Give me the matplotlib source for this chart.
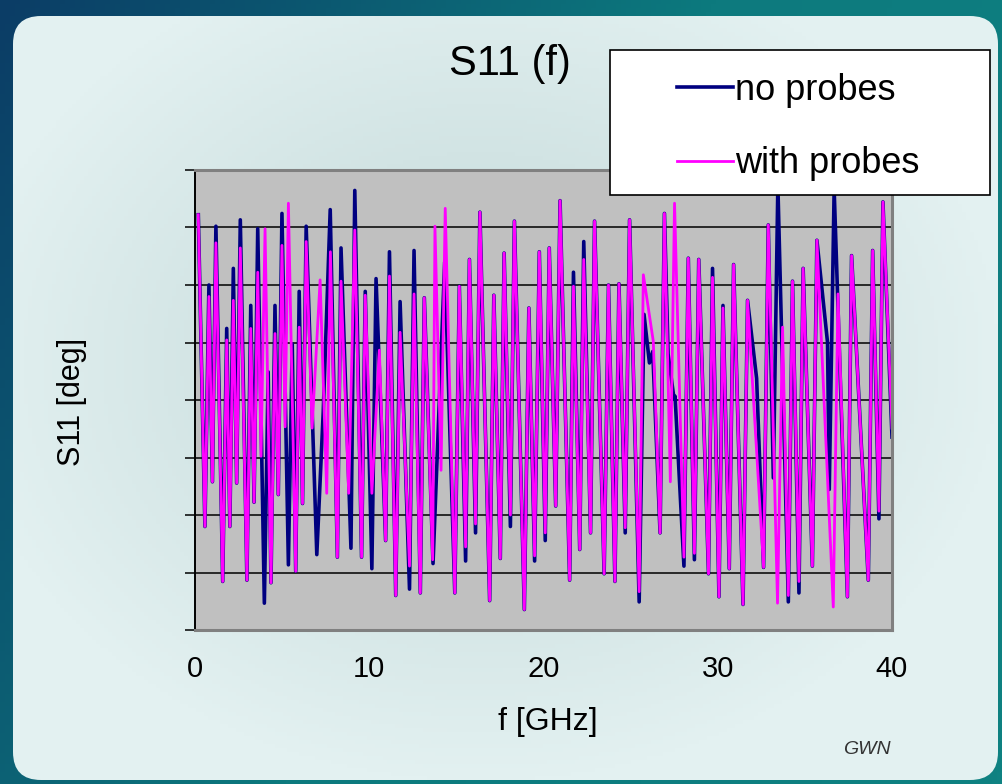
import numpy as np
import matplotlib
matplotlib.use('Agg')
import matplotlib.pyplot as plt
from matplotlib.patches import FancyBboxPatch, Rectangle
from matplotlib.colors import LinearSegmentedColormap

# extrema: frequency [GHz] and phase [deg]
f_no = [0.19, 0.57, 0.80, 1.00, 1.20, 1.59, 1.82, 2.00, 2.20, 2.39, 2.60, 2.98,
        3.20, 3.39, 3.60, 3.98, 4.20, 4.36, 4.59, 4.78, 4.99, 5.36, 5.58, 5.78,
        5.98, 6.17, 6.38, 6.99, 7.36, 7.76, 8.17, 8.38, 8.95, 9.17, 9.56, 9.77,
        10.15, 10.39, 10.94, 11.16, 11.52, 11.77, 12.31, 12.57, 12.93, 13.16,
        13.66, 14.33, 14.91, 15.17, 15.53, 15.75, 16.10, 16.35, 16.91, 17.15,
        17.52, 17.74, 18.10, 18.33, 18.90, 19.16, 19.49, 19.76, 20.10, 20.33,
        20.70, 20.95, 21.50, 21.72, 22.08, 22.31, 22.70, 22.93, 23.48, 23.73,
        24.10, 24.33, 24.69, 24.94, 25.49, 25.77, 26.08, 26.27, 26.69, 26.94,
        27.15, 27.49, 27.55, 28.06, 28.31, 28.66, 28.91, 29.47, 29.70, 30.07,
        30.30, 30.66, 30.91, 31.45, 31.71, 32.23, 32.63, 32.90, 33.19, 33.45,
        34.05, 34.29, 34.66, 34.90, 35.43, 35.69, 36.30, 36.40, 36.68, 37.44,
        37.68, 38.64, 38.89, 39.25, 39.48, 40.0]
s11_no = [145, -99, 90, -64, 136, -142, 56, -99, 103, -65, 141, -141,
          74, -80, 134, -159, 22, -143, 74, -74, 146, -129, 44, -134,
          85, -81, 136, -121, -9, 149, -123, 119, -116, 164, -123, 85,
          -132, 95, -110, 116, -153, 77, -148, 117, -151, 80,
          -128, 108, -151, 89, -126, 110, -104, 147, -157, 82,
          -124, 115, -99, 140, -164, 72, -126, 116, -110, 119,
          -83, 156, -141, 100, -117, 124, -104, 140, -136, 90,
          -142, 91, -104, 141, -158, 67, 29, 38, -104, 146,
          36, 1, 3, -130, 111, -125, 110, -136, 103, -154,
          74, -132, 106, -160, 78, 17, -131, 137, -61, 168,
          -158, 93, -151, 103, -130, 125, 45, -70, 165, -154,
          113, -141, 117, -93, 155, -29]

f_with = [0.19, 0.57, 0.80, 1.00, 1.20, 1.59, 1.82, 2.00, 2.20, 2.39, 2.60, 2.98,
          3.20, 3.39, 3.60, 3.79, 4.02, 4.36, 4.59, 4.78, 4.99, 5.17, 5.36, 5.78,
          5.98, 6.17, 6.38, 6.72, 7.18, 7.56, 7.77, 8.17, 8.38, 8.82, 9.17, 9.56,
          9.77, 10.15, 10.58, 10.94, 11.16, 11.52, 11.77, 12.31, 12.57, 12.93,
          13.16, 13.64, 13.77, 14.12, 14.36, 14.91, 15.17, 15.53, 15.75, 16.10,
          16.35, 16.91, 17.15, 17.52, 17.74, 18.10, 18.33, 18.90, 19.16, 19.49,
          19.76, 20.10, 20.33, 20.70, 20.95, 21.50, 21.72, 22.08, 22.31, 22.70,
          22.93, 23.48, 23.73, 24.10, 24.33, 24.69, 24.94, 25.49, 25.73, 26.30,
          26.69, 26.94, 27.28, 27.52, 28.06, 28.31, 28.66, 28.91, 29.47, 29.70,
          30.07, 30.30, 30.66, 30.91, 31.45, 31.71, 32.63, 32.90, 33.43, 33.72,
          34.05, 34.29, 34.66, 34.90, 35.43, 35.69, 36.63, 36.90, 37.44, 37.68,
          38.64, 38.89, 39.25, 39.48, 40.0]
s11_with = [145, -99, 81, -64, 123, -142, 47, -99, 78, -65, 119, -141,
            56, -80, 100, -44, 134, -143, 52, -74, 121, -21, 154, -134,
            57, -81, 124, -22, 94, -73, 116, -123, 93, -73, 133, -123,
            82, -73, 39, -110, 97, -153, 53, -130, 83, -151,
            80, -125, 136, -55, 150, -151, 89, -115, 110, -97,
            147, -157, 82, -124, 115, -90, 140, -164, 72, -122,
            116, -104, 119, -83, 156, -141, 89, -117, 110, -104,
            140, -136, 90, -142, 91, -100, 141, -150, 98, 46,
            -104, 146, -64, 154, -123, 111, -120, 110, -136, 96,
            -154, 72, -132, 106, -160, 78, -131, 137, -159, 57,
            -153, 93, -142, 103, -130, 125, -162, 83, -154, 113,
            -141, 117, -87, 155, -22]

x_ticks = [0, 10, 20, 30, 40]
y_ticks = [-180, -135, -90, -45, 0, 45, 90, 135, 180]

W, H = 1002, 784
fig = plt.figure(figsize=(W / 100, H / 100), dpi=100)
plt.rcParams['font.family'] = ['Liberation Sans', 'DejaVu Sans']

# slide background
bg = fig.add_axes([0, 0, 1, 1])
bg.set_zorder(0)
bg.set_xlim(0, W)
bg.set_ylim(H, 0)
bg.axis('off')
outer = LinearSegmentedColormap.from_list('outer', ['#0b3d66', '#0d7a7e', '#0f8282'])
gx = np.linspace(0, 1, 200)[None, :] * 0.7 + np.linspace(0, 1, 200)[:, None] * 0.3
bg.imshow(gx, cmap=outer, extent=(0, W, H, 0), aspect='auto')
inner = LinearSegmentedColormap.from_list('inner', ['#c0d6d6', '#d2e4e4', '#e3f1f1'])
yy, xx = np.mgrid[0:H:4, 0:W:4]
r = np.sqrt(((xx - 480) / 520.0) ** 2 + ((yy - 360) / 420.0) ** 2)
im = bg.imshow(np.clip(r, 0, 1), cmap=inner, extent=(0, W, H, 0), aspect='auto')
panel = FancyBboxPatch((13, 16), 985, 764, boxstyle='round,pad=0,rounding_size=28',
                       transform=bg.transData, facecolor='none', edgecolor='none')
bg.add_patch(panel)
im.set_clip_path(panel)

# plot area
ax = fig.add_axes([195 / W, 1 - 630 / H, 697 / W, 460 / H])
ax.set_zorder(1)
ax.set_facecolor('#c0c0c0')
ax.plot(f_no, s11_no, color='#000080', lw=2.6, label='no probes')
ax.plot(f_with, s11_with, color='#ff00ff', lw=2.0, label='with probes')
ax.set_xlim(0, 40)
ax.set_ylim(-180, 180)
ax.set_xticks(x_ticks)
ax.set_yticks(y_ticks)
ax.set_yticklabels([])
ax.grid(axis='y', color='black', lw=1.1)
ax.set_axisbelow(True)
ax.tick_params(axis='y', direction='out', length=7, width=1.1, color='black')
ax.tick_params(axis='x', length=0, pad=18, labelsize=21)
for side in ['top', 'right', 'bottom']:
    ax.spines[side].set_color('#808080')
    ax.spines[side].set_linewidth(2.2)
ax.spines['left'].set_color('black')
ax.spines['left'].set_linewidth(1.4)

fig.text(510 / W, 1 - 64 / H, 'S11 (f)', fontsize=30, ha='center', va='center')
fig.text(548 / W, 1 - 722 / H, 'f [GHz]', fontsize=23, ha='center', va='center')
fig.text(72 / W, 1 - 402 / H, 'S11 [deg]', fontsize=22, rotation=90, ha='center', va='center')
fig.text(867 / W, 1 - 750 / H, 'GWN', fontsize=14, style='italic', color='#333333',
         ha='center', va='center')

# legend box
fig.patches.append(Rectangle((610 / W, 1 - 195 / H), 380 / W, 145 / H, transform=fig.transFigure,
                             facecolor='white', edgecolor='black', lw=1.2, zorder=5))
handles, labels = ax.get_legend_handles_labels()
leg = fig.legend(handles, labels, loc='upper left', bbox_to_anchor=(677 / W, 1 - 73 / H),
                 bbox_transform=fig.transFigure, frameon=False, fontsize=26,
                 handlelength=1.55, handletextpad=0.05, labelspacing=1.06,
                 borderpad=0, borderaxespad=0)
leg.set_zorder(6)

fig.savefig('out.png', dpi=100)
